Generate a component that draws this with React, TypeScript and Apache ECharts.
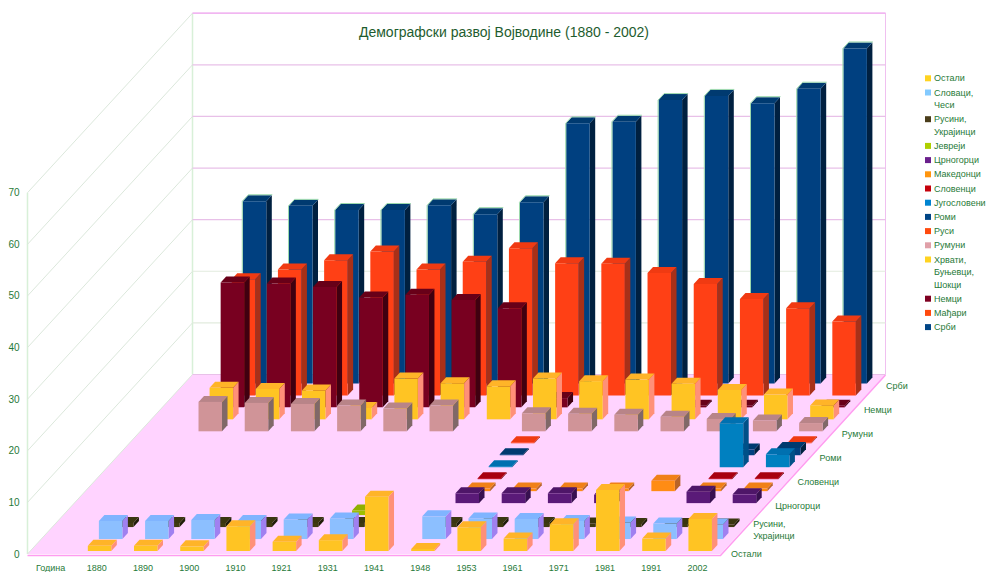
import React, { useEffect, useRef } from "react";
import * as echarts from "echarts";

const title = "Демографски развој Војводине (1880 - 2002)";
const categories = ["Година", "1880", "1890", "1900", "1910", "1921", "1931", "1941", "1948", "1953", "1961", "1971", "1981", "1991", "2002"];
const valueTicks = [0, 10, 20, 30, 40, 50, 60, 70];
const _ = null;

// values per census year, 1880 … 2002 (percent)
const ostali = [1.0, 1.0, 0.9, 4.8, 1.8, 2.1, 10.5, 0.4, 4.6, 2.4, 5.2, 11.8, 2.4, 6.2];
const slovaci = [3.5, 3.5, 3.7, 3.5, 3.8, 4.0, _, 4.4, 4.0, 3.9, 3.5, 3.2, 3.0, 2.8];
const rusini = [0.8, 0.8, 0.8, 0.8, 0.8, 0.8, _, 0.8, 0.8, 0.8, 0.7, 0.6, 0.6, 0.5];
const jevreji = [_, _, _, _, _, 0.9, _, _, _, _, _, _, _, _];
const crnogorci = [_, _, _, _, _, _, _, 1.9, 1.9, 1.9, 1.6, _, 2.2, 1.7];
const makedonci = [_, _, _, _, _, _, _, 0.5, 0.5, 0.5, 0.5, 2.0, 0.5, 0.5];
const slovenci = [_, _, _, _, _, _, _, 0.2, _, _, _, _, 0.2, 0.2];
const jugosloveni = [_, _, _, _, _, _, _, 0.2, _, _, _, _, 8.5, 2.5];
const romi = [_, _, _, _, _, _, _, 0.2, _, _, _, _, 1.1, 1.4];
const rusi = [_, _, _, _, _, _, _, 0.2, _, _, _, _, _, 0.2];
const rumuni = [5.7, 5.5, 5.3, 5.0, 4.4, 5.0, _, 3.5, 3.4, 3.2, 2.8, 2.4, 2.1, 1.6];
const hrvati = [6.1, 5.9, 5.6, 2.2, 7.9, 7.0, 6.4, 7.9, 7.4, 7.7, 6.9, 5.7, 4.8, 2.7];
const nemci = [24.2, 24.0, 23.3, 21.3, 21.8, 20.8, 19.2, 1.8, _, _, 0.3, 0.3, _, 0.3];
const madjari = [22.5, 24.4, 26.2, 27.9, 24.4, 25.9, 28.5, 25.6, 25.5, 23.7, 21.6, 18.7, 16.9, 14.3];
const srbi = [35.3, 34.4, 33.6, 33.6, 34.5, 32.8, 35.1, 50.4, 50.7, 54.9, 55.7, 54.3, 57.1, 64.9];

const seriesNames = ["Остали", "Словаци,\nЧеси", "Русини,\nУкрајинци", "Јевреји", "Црногорци", "Македонци", "Словенци", "Југословени", "Роми", "Руси", "Румуни", "Хрвати,\nБуњевци,\nШокци", "Немци", "Мађари", "Срби"];
const seriesValues = [ostali, slovaci, rusini, jevreji, crnogorci, makedonci, slovenci, jugosloveni, romi, rusi, rumuni, hrvati, nemci, madjari, srbi];

const legendColors = ["#FFD320", "#83CAFF", "#4A3D1A", "#AECF00", "#6A1F8C", "#FF950E", "#C5000B", "#0084D1", "#004586", "#FF4A0E", "#E0A0A8", "#FFD320", "#7E0021", "#FF4A0E", "#004586"];
const faceColors = ["#FFC423", "#8CBFFF", "#3F3A10", "#9FBF00", "#5A1A78", "#FF8C14", "#B80010", "#0080C0", "#004080", "#FF4015", "#D09498", "#FFC423", "#780020", "#FF4015", "#004080"];
const topColors = ["#FFB428", "#80B4FF", "#3A3610", "#8FB000", "#4E1668", "#F08018", "#A80010", "#0070B0", "#003A70", "#F03A12", "#B88488", "#FFB428", "#680018", "#F03A12", "#003A70"];
const sideColors = ["#FF9078", "#A080F0", "#201D08", "#607000", "#381050", "#B86428", "#700008", "#005088", "#002040", "#A83018", "#806868", "#FF9078", "#400010", "#A83018", "#002040"];
const gridColors = ["#E8C0E8", "#E2EBDE", "#E2EBDE", "#E8C0E8", "#E8C0E8", "#E8C0E8", "#E8C0E8", "#F0B0F0"];

const depthLabelRows = [0, 2, 4, 6, 8, 10, 12, 14];
const depthLabels = ["Остали", "Русини,\nУкрајинци", "Црногорци", "Словенци", "Роми", "Румуни", "Немци", "Срби"];

const TEXT = "#1F7A38";
const TITLE_TEXT = "#1E5C2E";
const OUTLINE = "#9AD8AC";
const OUTLINED_ROW = 14;
const FONT = "Liberation Sans";
const STEP_X = 11.07;
const STEP_Y = 11.97;
const WALL_X = 165;
const WALL_Y = 179.5;
const BAR_W = 23.5;
const TOP_X = 5.5;
const TOP_Y = 6;
const LEFT = 27.5;
const TOP = 192.7;
const WIDTH = 693;
const HEIGHT = 361.3;

const poly = (points: number[][], fill: string) => ({
  type: "polygon",
  shape: { points },
  style: { fill, stroke: "none" },
  silent: true,
});

const barSeries = (row: number) => ({
  type: "custom",
  name: seriesNames[row].replace("\n", " "),
  coordinateSystem: "cartesian2d",
  clip: false,
  encode: { x: 0, y: 1 },
  data: seriesValues[row]
    .map((v, i) => [categories[i + 1], v])
    .filter((d) => d[1] !== null),
  renderItem: (_p: any, api: any) => {
    const [cx, yTop] = api.coord([api.value(0), api.value(1)]);
    const [, yBase] = api.coord([api.value(0), 0]);
    const sx = (row + 0.25) * STEP_X;
    const sy = (row + 0.25) * STEP_Y;
    const x0 = cx + sx - BAR_W / 2;
    const x1 = x0 + BAR_W;
    const yb = yBase - sy;
    const yt = yTop - sy;
    const children: any[] = [
      poly([[x1, yt], [x1 + TOP_X, yt - TOP_Y], [x1 + TOP_X, yb - TOP_Y], [x1, yb]], sideColors[row]),
      poly([[x0, yt], [x0 + TOP_X, yt - TOP_Y], [x1 + TOP_X, yt - TOP_Y], [x1, yt]], topColors[row]),
      poly([[x0, yb], [x1, yb], [x1, yt], [x0, yt]], faceColors[row]),
    ];
    if (row === OUTLINED_ROW) {
      children.push({
        type: "polyline",
        shape: { points: [[x0 - 0.5, yb], [x0 - 0.5, yt], [x0 + TOP_X, yt - TOP_Y - 0.5], [x1 + TOP_X + 0.5, yt - TOP_Y - 0.5]] },
        style: { stroke: OUTLINE, lineWidth: 1, fill: "none" },
        silent: true,
      });
    }
    return { type: "group", children };
  },
});

const gridLineSeries = {
  type: "custom",
  coordinateSystem: "cartesian2d",
  clip: false,
  silent: true,
  data: valueTicks.map((v, i) => [categories[0], v, i]),
  renderItem: (_p: any, api: any) => {
    const [cx, y] = api.coord([api.value(0), api.value(1)]);
    const step = api.size([1, 0])[0];
    const x = cx - step / 2;
    const right = x + step * categories.length;
    const back: any = [x + WALL_X, y - WALL_Y];
    return {
      type: "group",
      children: [
        { type: "line", shape: { x1: x, y1: y, x2: back[0], y2: back[1] }, style: { stroke: "#DCE8DC", lineWidth: 1 } },
        { type: "line", shape: { x1: back[0], y1: back[1], x2: right + WALL_X, y2: back[1] }, style: { stroke: gridColors[api.value(2)], lineWidth: 1.2 } },
      ],
    };
  },
};

const wallSeries = {
  type: "custom",
  coordinateSystem: "cartesian2d",
  clip: false,
  silent: true,
  data: [[categories[0], 0, valueTicks[valueTicks.length - 1]]],
  renderItem: (_p: any, api: any) => {
    const [cx, yb] = api.coord([api.value(0), 0]);
    const [, yt] = api.coord([api.value(0), api.value(2)]);
    const step = api.size([1, 0])[0];
    const x = cx - step / 2;
    const right = x + step * categories.length;
    return {
      type: "group",
      children: [
        { type: "line", shape: { x1: x, y1: yb, x2: x, y2: yt }, style: { stroke: "#D8F0D8", lineWidth: 1.5 } },
        { type: "line", shape: { x1: x + WALL_X, y1: yb - WALL_Y, x2: x + WALL_X, y2: yt - WALL_Y }, style: { stroke: "#D8F0D8", lineWidth: 1.5 } },
        { type: "line", shape: { x1: right + WALL_X, y1: yb - WALL_Y, x2: right + WALL_X, y2: yt - WALL_Y }, style: { stroke: "#F0C0F0", lineWidth: 1 } },
        { type: "line", shape: { x1: x + WALL_X, y1: yt - WALL_Y, x2: right + WALL_X, y2: yt - WALL_Y }, style: { stroke: "#F0B0F0", lineWidth: 1 } },
        poly([[x, yb], [x + WALL_X, yb - WALL_Y], [right + WALL_X, yb - WALL_Y], [right, yb]], "#FFD3FF"),
        { type: "polyline", shape: { points: [[x, yb + 1.5], [right, yb + 1.5], [right + WALL_X, yb - WALL_Y + 0.5]] }, style: { stroke: "#FF9CF0", lineWidth: 1.5, fill: "none" } },
      ],
    };
  },
};

const depthLabelSeries = {
  type: "custom",
  coordinateSystem: "cartesian2d",
  clip: false,
  silent: true,
  data: depthLabelRows.map((r, i) => [categories[categories.length - 1], 0, r, i]),
  renderItem: (_p: any, api: any) => {
    const [cx, y] = api.coord([api.value(0), api.value(1)]);
    const step = api.size([1, 0])[0];
    const row = api.value(2);
    return {
      type: "text",
      x: cx + step / 2 + (row + 0.5) * STEP_X + 5,
      y: y - (row + 0.5) * STEP_Y + 6,
      style: {
        text: depthLabels[api.value(3)],
        fill: TEXT,
        font: `9px "${FONT}"`,
        lineHeight: 12,
        align: "left",
        verticalAlign: "middle",
      },
    };
  },
};

function legendGraphics() {
  const out: any[] = [];
  let y = 78.3;
  seriesNames.forEach((name, i) => {
    const lines = name.split("\n");
    out.push({ type: "rect", left: 925, top: y - 3, shape: { width: 6, height: 6 }, style: { fill: legendColors[i] } });
    lines.forEach((ln, j) => {
      out.push({
        type: "text",
        x: 934,
        y: y + j * 12.5,
        style: { text: ln, fill: TEXT, font: `9px "${FONT}"`, verticalAlign: "middle", align: "left" },
      });
    });
    y += lines.length * 12.5 + 1.7;
  });
  return out;
}

export default function App() {
  const ref = useRef<HTMLDivElement>(null);
  useEffect(() => {
    const chart = echarts.init(ref.current!, null, { renderer: "svg" });
    const rowsBackToFront = seriesNames.map((_n, i) => seriesNames.length - 1 - i);
    chart.setOption({
      animation: false,
      backgroundColor: "#FFFFFF",
      title: {
        text: title,
        left: 499,
        top: 20,
        textAlign: "center",
        textStyle: { color: TITLE_TEXT, fontFamily: FONT, fontSize: 14, fontWeight: "normal" },
      },
      grid: { left: LEFT, top: TOP, width: WIDTH, height: HEIGHT },
      xAxis: {
        type: "category",
        data: categories,
        axisLine: { show: false },
        axisTick: { show: false },
        axisLabel: { interval: 0, color: TEXT, fontFamily: FONT, fontSize: 9, margin: 9 },
      },
      yAxis: {
        type: "value",
        min: 0,
        max: 70,
        interval: 10,
        axisLine: { show: false },
        axisTick: { show: false },
        splitLine: { show: false },
        axisLabel: { color: TEXT, fontFamily: FONT, fontSize: 10, margin: 8 },
      },
      graphic: legendGraphics(),
      series: [wallSeries, gridLineSeries, ...rowsBackToFront.map(barSeries), depthLabelSeries],
    });
    return () => chart.dispose();
  }, []);
  return <div ref={ref} style={{ position: "absolute", left: 0, top: 0, width: 989, height: 572 }} />;
}
